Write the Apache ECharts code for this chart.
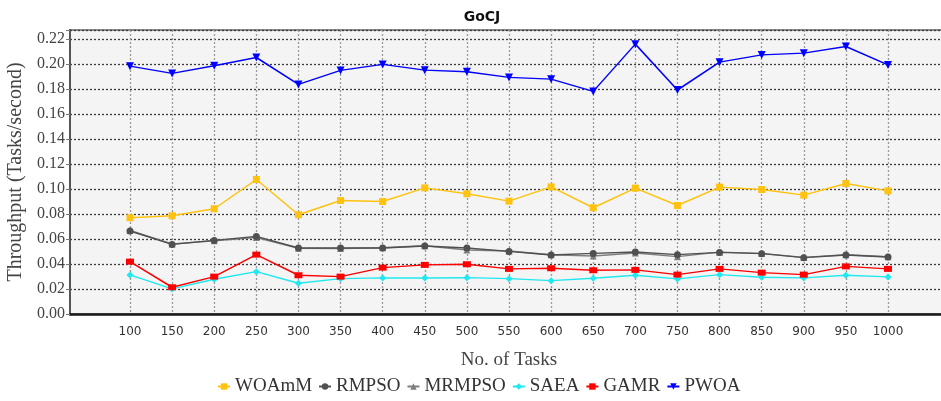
<!DOCTYPE html>
<html>
<head>
<meta charset="utf-8">
<script src="https://cdn.jsdelivr.net/npm/echarts@6/dist/echarts.min.js"></script>
<style>html,body{margin:0;padding:0;background:#fff;}#c{width:941px;height:401px;}</style>
</head>
<body>
<div id="c"></div>
<script>
const categories = ['100','150','200','250','300','350','400','450','500','550','600','650','700','750','800','850','900','950','1000'];
const woamm  = [0.0770,0.0786,0.0842,0.1076,0.0794,0.0908,0.0900,0.1009,0.0962,0.0903,0.1017,0.0850,0.1007,0.0868,0.1015,0.0996,0.0951,0.1044,0.0985];
const rmpso  = [0.0664,0.0557,0.0589,0.0621,0.0528,0.0528,0.0528,0.0544,0.0528,0.0501,0.0472,0.0485,0.0496,0.0475,0.0493,0.0483,0.0451,0.0472,0.0456];
const mrmpso = [0.0668,0.0560,0.0586,0.0612,0.0526,0.0524,0.0530,0.0546,0.0512,0.0504,0.0474,0.0464,0.0488,0.0459,0.0495,0.0485,0.0453,0.0474,0.0458];
const saea   = [0.0313,0.0201,0.0278,0.0339,0.0246,0.0283,0.0289,0.0289,0.0291,0.0283,0.0267,0.0286,0.0310,0.0281,0.0315,0.0294,0.0289,0.0310,0.0297];
const gamr   = [0.0419,0.0214,0.0299,0.0475,0.0310,0.0299,0.0371,0.0393,0.0398,0.0361,0.0366,0.0350,0.0353,0.0315,0.0361,0.0331,0.0315,0.0381,0.0361];
const pwoa   = [0.1983,0.1925,0.1986,0.2052,0.1837,0.1949,0.1997,0.1951,0.1938,0.1893,0.1879,0.1781,0.2159,0.1792,0.2015,0.2073,0.2087,0.2140,0.1993];
const yMin = 0, yMax = 0.2272, yStep = 0.02;

const chart = echarts.init(document.getElementById('c'), null, {renderer:'canvas'});
const serif = '"Liberation Serif","DejaVu Serif",serif';
const sans = '"DejaVu Sans","Noto Sans",sans-serif';
function mk(name, data, color, symbol, size, z) {
  return {name, type:'line', data, xAxisIndex:1, yAxisIndex:1, color,
    symbol, symbolSize:size, showSymbol:true, z:z||2,
    lineStyle:{color, width:1.5}, itemStyle:{color}};
}
chart.setOption({
  animation:false,
  backgroundColor:'#ffffff',
  title:{text:'GoCJ', left:477, textAlign:'center', top:5,
    textStyle:{fontFamily:sans, fontWeight:'bold', fontSize:14, color:'#111'}},
  grid:[
    {left:70, right:-4, top:30, bottom:87, show:true, backgroundColor:'#f4f4f4', borderColor:'#8a8a8a', borderWidth:2, outerBoundsMode:'none', containLabel:false},
    {left:130, right:53, top:30, bottom:87, outerBoundsMode:'none', containLabel:false}
  ],
  xAxis:[
    {gridIndex:0, type:'value', min:0, max:1, axisLine:{show:true, lineStyle:{color:'#1a1a1a', width:2.5}},
     axisTick:{show:false}, axisLabel:{show:false}, splitLine:{show:false}},
    {gridIndex:1, type:'category', data:categories, boundaryGap:false,
     axisLine:{show:false}, axisTick:{show:false},
     axisLabel:{fontFamily:sans, fontSize:12, color:'#333', margin:12},
     splitLine:{show:true, lineStyle:{color:'#9a9a9a', width:1.3, type:[2,2]}},
     name:'No. of Tasks', nameLocation:'middle', nameGap:37,
     nameTextStyle:{fontFamily:serif, fontSize:19, color:'#444'}}
  ],
  yAxis:[
    {gridIndex:0, type:'value', min:yMin, max:yMax, interval:yStep,
     axisLine:{show:true, lineStyle:{color:'#555', width:2}},
     axisTick:{show:true, length:4, lineStyle:{color:'#777'}},
     axisLabel:{fontFamily:serif, fontSize:16, color:'#444', margin:5,
       formatter:function(v){ const k=v/yStep; if(Math.abs(k-Math.round(k))>1e-6) return ''; return v.toFixed(2);} },
     splitLine:{show:true, lineStyle:{color:'#3a3a3a', width:1.3, type:[2,2]}},
     name:'Throughput (Tasks/second)', nameLocation:'middle', nameGap:43,
     nameTextStyle:{fontFamily:serif, fontSize:20, color:'#444'}},
    {gridIndex:1, type:'value', min:yMin, max:yMax, interval:yStep, show:false, splitLine:{show:false}}
  ],
  legend:{bottom:0, left:212, itemWidth:12, itemHeight:8, itemGap:6,
    textStyle:{fontFamily:serif, fontSize:19, color:'#333'},
    data:['WOAmM','RMPSO','MRMPSO','SAEA','GAMR','PWOA']},
  series:[
    mk('WOAmM', woamm, '#FFC20E', 'rect', 7),
    mk('RMPSO', rmpso, '#505050', 'circle', 7, 3),
    mk('MRMPSO', mrmpso, '#7f7f7f', 'triangle', 7),
    mk('SAEA', saea, '#1FE8F0', 'diamond', 7),
    mk('GAMR', gamr, '#FF0000', 'rect', [8,6]),
    mk('PWOA', pwoa, '#0000FF', 'path://M0,0 L10,0 L5,10 Z', 8)
  ]
});
</script>
</body>
</html>
